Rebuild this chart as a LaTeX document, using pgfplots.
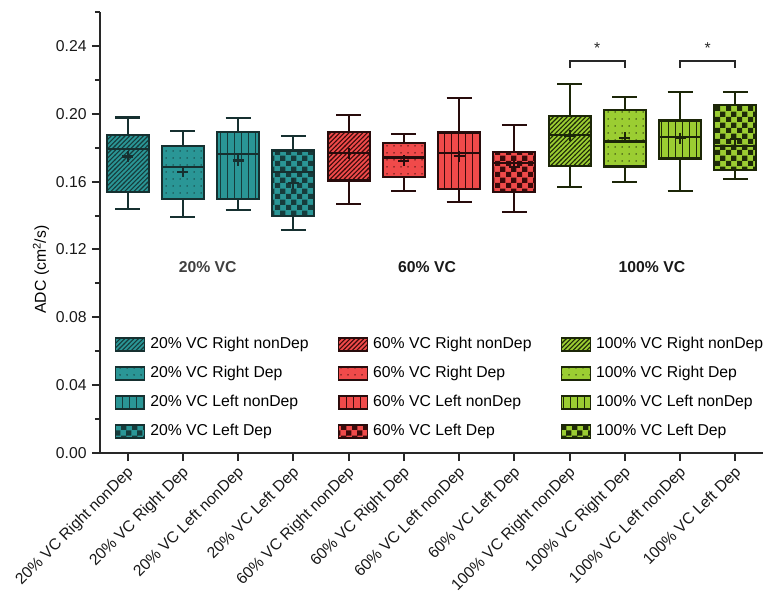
\documentclass[border=0pt]{standalone}
\usepackage{fontspec}
\setmainfont{Liberation Sans}
\usepackage{pgfplots}
\pgfplotsset{compat=1.18}
\usetikzlibrary{patterns}

\pgfdeclarepatternformonly{bigchecker}{\pgfpointorigin}{\pgfqpoint{11bp}{11bp}}{\pgfqpoint{11bp}{11bp}}{%
  \pgfpathrectangle{\pgfpointorigin}{\pgfqpoint{5.6bp}{5.6bp}}%
  \pgfpathrectangle{\pgfqpoint{5.5bp}{5.5bp}}{\pgfqpoint{5.6bp}{5.6bp}}%
  \pgfusepath{fill}}
\pgfdeclarepatternformonly{bigne}{\pgfqpoint{-1bp}{-1bp}}{\pgfqpoint{6bp}{6bp}}{\pgfqpoint{4.6bp}{4.6bp}}{%
  \pgfsetlinewidth{1.1bp}%
  \pgfpathmoveto{\pgfqpoint{-0.2bp}{-0.2bp}}\pgfpathlineto{\pgfqpoint{4.8bp}{4.8bp}}%
  \pgfusepath{stroke}}
\pgfdeclarepatternformonly{bigvert}{\pgfqpoint{0bp}{-1bp}}{\pgfqpoint{7bp}{8bp}}{\pgfqpoint{7bp}{7bp}}{%
  \pgfsetlinewidth{1.3bp}%
  \pgfpathmoveto{\pgfqpoint{3.5bp}{-1bp}}\pgfpathlineto{\pgfqpoint{3.5bp}{8bp}}%
  \pgfusepath{stroke}}
\pgfdeclarepatternformonly{bigdots}{\pgfpointorigin}{\pgfqpoint{6.5bp}{6.5bp}}{\pgfqpoint{6.5bp}{6.5bp}}{%
  \pgfpathcircle{\pgfqpoint{3.25bp}{3.25bp}}{0.8bp}%
  \pgfusepath{fill}}

\definecolor{tealF}{RGB}{42,150,150}
\definecolor{tealD}{RGB}{22,48,48}
\definecolor{tealP}{RGB}{22,60,60}
\definecolor{redF}{RGB}{240,74,74}
\definecolor{redD}{RGB}{40,12,12}
\definecolor{redP}{RGB}{60,10,10}
\definecolor{grnF}{RGB}{155,205,50}
\definecolor{grnD}{RGB}{28,38,8}
\definecolor{grnP}{RGB}{30,42,8}
\definecolor{axisc}{RGB}{40,40,40}

\tikzset{
  tealbox/.style={draw=tealD, preaction={fill=tealF}, pattern color=tealP},
  redbox/.style={draw=redD, preaction={fill=redF}, pattern color=redP},
  grnbox/.style={draw=grnD, preaction={fill=grnF}, pattern color=grnP},
  patNE/.style={pattern=bigne},
  patDot/.style={pattern=bigdots},
  patV/.style={pattern=bigvert},
  patCh/.style={pattern=bigchecker},
}

\begin{document}
\fontsize{15.8}{19}\selectfont
\begin{tikzpicture}
\begin{axis}[
  scale only axis,
  width=663bp, height=441bp,
  xmin=-0.5, xmax=11.5,
  ymin=0, ymax=0.26,
  axis lines*=left,
  axis line style={line width=2.3bp, color=axisc},
  tick style={line width=2bp, color=axisc},
  major tick length=8bp,
  minor tick length=5bp,
  tick align=outside,
  xtick={0,...,11},
  xticklabels={20\% VC Right nonDep, 20\% VC Right Dep, 20\% VC Left nonDep, 20\% VC Left Dep,
               60\% VC Right nonDep, 60\% VC Right Dep, 60\% VC Left nonDep, 60\% VC Left Dep,
               100\% VC Right nonDep, 100\% VC Right Dep, 100\% VC Left nonDep, 100\% VC Left Dep},
  xticklabel style={rotate=45, anchor=east, yshift=-9bp, xshift=1bp},
  ytick={0,0.04,0.08,0.12,0.16,0.20,0.24},
  minor ytick={0.02,0.06,0.10,0.14,0.18,0.22,0.26},
  yticklabel style={/pgf/number format/fixed, /pgf/number format/fixed zerofill, /pgf/number format/precision=2},
  /pgf/number format/assume math mode=true,
  ticklabel style={text=black!90},
  ylabel={ADC (cm\textsuperscript{2}/s)},
  every axis y label/.style={at={(axis description cs:-0.089,0.416)}, rotate=90, anchor=center},
  legend columns=4,
  transpose legend,
  legend cell align=left,
  legend style={at={(axis description cs:0.022,0.268)}, anchor=north west, draw=none, fill=none,
    inner sep=0pt, row sep=10bp,
    nodes={inner sep=2bp, text height=11.5bp, text depth=3.5bp},
    /tikz/every odd column/.append style={column sep=3bp},
    /tikz/every even column/.append style={column sep=27bp}},
]
% boxes (Q1 to Q3)
\addplot[forget plot, tealbox, patNE, line width=2.2bp] coordinates {(-0.38,0.1538) (0.38,0.1538) (0.38,0.1874) (-0.38,0.1874)} -- cycle;
\addplot[forget plot, tealbox, patDot, line width=2.2bp] coordinates {(0.62,0.1498) (1.38,0.1498) (1.38,0.1812) (0.62,0.1812)} -- cycle;
\addplot[forget plot, tealbox, patV, line width=2.2bp] coordinates {(1.62,0.1498) (2.38,0.1498) (2.38,0.1891) (1.62,0.1891)} -- cycle;
\addplot[forget plot, tealbox, patCh, line width=2.2bp] coordinates {(2.62,0.1399) (3.38,0.1399) (3.38,0.1783) (2.62,0.1783)} -- cycle;
\addplot[forget plot, redbox, patNE, line width=2.2bp] coordinates {(3.62,0.1606) (4.38,0.1606) (4.38,0.1891) (3.62,0.1891)} -- cycle;
\addplot[forget plot, redbox, patDot, line width=2.2bp] coordinates {(4.62,0.1628) (5.38,0.1628) (5.38,0.1828) (4.62,0.1828)} -- cycle;
\addplot[forget plot, redbox, patV, line width=2.2bp] coordinates {(5.62,0.1557) (6.38,0.1557) (6.38,0.1889) (5.62,0.1889)} -- cycle;
\addplot[forget plot, redbox, patCh, line width=2.2bp] coordinates {(6.62,0.1539) (7.38,0.1539) (7.38,0.1773) (6.62,0.1773)} -- cycle;
\addplot[forget plot, grnbox, patNE, line width=2.2bp] coordinates {(7.62,0.1694) (8.38,0.1694) (8.38,0.1989) (7.62,0.1989)} -- cycle;
\addplot[forget plot, grnbox, patDot, line width=2.2bp] coordinates {(8.62,0.1689) (9.38,0.1689) (9.38,0.2021) (8.62,0.2021)} -- cycle;
\addplot[forget plot, grnbox, patV, line width=2.2bp] coordinates {(9.62,0.1736) (10.38,0.1736) (10.38,0.1960) (9.62,0.1960)} -- cycle;
\addplot[forget plot, grnbox, patCh, line width=2.2bp] coordinates {(10.62,0.1669) (11.38,0.1669) (11.38,0.2052) (10.62,0.2052)} -- cycle;
% whiskers, caps and medians
\addplot[forget plot, draw=tealD, line width=2.2bp, unbounded coords=jump] coordinates {
(-0.225,0.1978)(0.225,0.1978)(0,nan)(0,0.1978)(0,0.1874)(0,nan)(0,0.1538)(0,0.1438)(0,nan)(-0.225,0.1438)(0.225,0.1438)(0,nan)(-0.38,0.1794)(0.38,0.1794)(0,nan)
(0.775,0.1899)(1.225,0.1899)(1,nan)(1,0.1899)(1,0.1812)(1,nan)(1,0.1498)(1,0.1392)(1,nan)(0.775,0.1392)(1.225,0.1392)(1,nan)(0.62,0.1688)(1.38,0.1688)(1,nan)
(1.775,0.1977)(2.225,0.1977)(2,nan)(2,0.1977)(2,0.1891)(2,nan)(2,0.1498)(2,0.1433)(2,nan)(1.775,0.1433)(2.225,0.1433)(2,nan)(1.62,0.1763)(2.38,0.1763)(2,nan)
(2.775,0.1869)(3.225,0.1869)(3,nan)(3,0.1869)(3,0.1783)(3,nan)(3,0.1399)(3,0.1315)(3,nan)(2.775,0.1315)(3.225,0.1315)(3,nan)(2.62,0.1659)(3.38,0.1659)};
\addplot[forget plot, draw=redD, line width=2.2bp, unbounded coords=jump] coordinates {
(3.775,0.1991)(4.225,0.1991)(4,nan)(4,0.1991)(4,0.1891)(4,nan)(4,0.1606)(4,0.1466)(4,nan)(3.775,0.1466)(4.225,0.1466)(4,nan)(3.62,0.1771)(4.38,0.1771)(4,nan)
(4.775,0.1879)(5.225,0.1879)(5,nan)(5,0.1879)(5,0.1828)(5,nan)(5,0.1628)(5,0.1547)(5,nan)(4.775,0.1547)(5.225,0.1547)(5,nan)(4.62,0.1742)(5.38,0.1742)(5,nan)
(5.775,0.2092)(6.225,0.2092)(6,nan)(6,0.2092)(6,0.1889)(6,nan)(6,0.1557)(6,0.1482)(6,nan)(5.775,0.1482)(6.225,0.1482)(6,nan)(5.62,0.1771)(6.38,0.1771)(6,nan)
(6.775,0.1934)(7.225,0.1934)(7,nan)(7,0.1934)(7,0.1773)(7,nan)(7,0.1539)(7,0.1421)(7,nan)(6.775,0.1421)(7.225,0.1421)(7,nan)(6.62,0.1708)(7.38,0.1708)};
\addplot[forget plot, draw=grnD, line width=2.2bp, unbounded coords=jump] coordinates {
(7.775,0.2174)(8.225,0.2174)(8,nan)(8,0.2174)(8,0.1989)(8,nan)(8,0.1694)(8,0.1567)(8,nan)(7.775,0.1567)(8.225,0.1567)(8,nan)(7.62,0.1875)(8.38,0.1875)(8,nan)
(8.775,0.2101)(9.225,0.2101)(9,nan)(9,0.2101)(9,0.2021)(9,nan)(9,0.1689)(9,0.1600)(9,nan)(8.775,0.1600)(9.225,0.1600)(9,nan)(8.62,0.1836)(9.38,0.1836)(9,nan)
(9.775,0.2129)(10.225,0.2129)(10,nan)(10,0.2129)(10,0.1960)(10,nan)(10,0.1736)(10,0.1543)(10,nan)(9.775,0.1543)(10.225,0.1543)(10,nan)(9.62,0.1865)(10.38,0.1865)(10,nan)
(10.775,0.2127)(11.225,0.2127)(11,nan)(11,0.2127)(11,0.2052)(11,nan)(11,0.1669)(11,0.1616)(11,nan)(10.775,0.1616)(11.225,0.1616)(11,nan)(10.62,0.1810)(11.38,0.1810)};
% means
\addplot[forget plot, only marks, mark=+, mark size=5.5bp, line width=2.2bp, color=tealD] coordinates {(0,0.1748) (1,0.1659) (2,0.1724) (3,0.1590)};
\addplot[forget plot, only marks, mark=+, mark size=5.5bp, line width=2.2bp, color=redD] coordinates {(4,0.1767) (5,0.1722) (6,0.1749) (7,0.1688)};
\addplot[forget plot, only marks, mark=+, mark size=5.5bp, line width=2.2bp, color=grnD] coordinates {(8,0.1872) (9,0.1859) (10,0.1856) (11,0.1850)};
% legend
\addlegendimage{legend image code/.code={\draw[tealbox,patNE,line width=1.5bp] (0bp,-6.5bp) rectangle (29bp,6.5bp);}}
\addlegendentry{20\% VC Right nonDep}
\addlegendimage{legend image code/.code={\draw[tealbox,patDot,line width=1.5bp] (0bp,-6.5bp) rectangle (29bp,6.5bp);}}
\addlegendentry{20\% VC Right Dep}
\addlegendimage{legend image code/.code={\draw[tealbox,patV,line width=1.5bp] (0bp,-6.5bp) rectangle (29bp,6.5bp);}}
\addlegendentry{20\% VC Left nonDep}
\addlegendimage{legend image code/.code={\draw[tealbox,patCh,line width=1.5bp] (0bp,-6.5bp) rectangle (29bp,6.5bp);}}
\addlegendentry{20\% VC Left Dep}
\addlegendimage{legend image code/.code={\draw[redbox,patNE,line width=1.5bp] (0bp,-6.5bp) rectangle (29bp,6.5bp);}}
\addlegendentry{60\% VC Right nonDep}
\addlegendimage{legend image code/.code={\draw[redbox,patDot,line width=1.5bp] (0bp,-6.5bp) rectangle (29bp,6.5bp);}}
\addlegendentry{60\% VC Right Dep}
\addlegendimage{legend image code/.code={\draw[redbox,patV,line width=1.5bp] (0bp,-6.5bp) rectangle (29bp,6.5bp);}}
\addlegendentry{60\% VC Left nonDep}
\addlegendimage{legend image code/.code={\draw[redbox,patCh,line width=1.5bp] (0bp,-6.5bp) rectangle (29bp,6.5bp);}}
\addlegendentry{60\% VC Left Dep}
\addlegendimage{legend image code/.code={\draw[grnbox,patNE,line width=1.5bp] (0bp,-6.5bp) rectangle (29bp,6.5bp);}}
\addlegendentry{100\% VC Right nonDep}
\addlegendimage{legend image code/.code={\draw[grnbox,patDot,line width=1.5bp] (0bp,-6.5bp) rectangle (29bp,6.5bp);}}
\addlegendentry{100\% VC Right Dep}
\addlegendimage{legend image code/.code={\draw[grnbox,patV,line width=1.5bp] (0bp,-6.5bp) rectangle (29bp,6.5bp);}}
\addlegendentry{100\% VC Left nonDep}
\addlegendimage{legend image code/.code={\draw[grnbox,patCh,line width=1.5bp] (0bp,-6.5bp) rectangle (29bp,6.5bp);}}
\addlegendentry{100\% VC Left Dep}
% group labels
\node[font=\bfseries, text=black!75] at (axis cs:1.45,0.1099) {20\% VC};
\node[font=\bfseries, text=black!90] at (axis cs:5.42,0.1099) {60\% VC};
\node[font=\bfseries, text=black!90] at (axis cs:9.49,0.1099) {100\% VC};
% significance
\draw[line width=2bp, color=axisc] (axis cs:8,0.2272) -- (axis cs:8,0.2313) -- (axis cs:9,0.2313) -- (axis cs:9,0.2272);
\draw[line width=2bp, color=axisc] (axis cs:10,0.2272) -- (axis cs:10,0.2313) -- (axis cs:11,0.2313) -- (axis cs:11,0.2272);
\node[text=axisc] at (axis cs:8.5,0.2388) {*};
\node[text=axisc] at (axis cs:10.5,0.2388) {*};
\end{axis}
\pgfresetboundingbox
\path (current axis.south west) ++(-100bp,-153bp) rectangle ++(776bp,606bp);
\end{tikzpicture}
\end{document}
